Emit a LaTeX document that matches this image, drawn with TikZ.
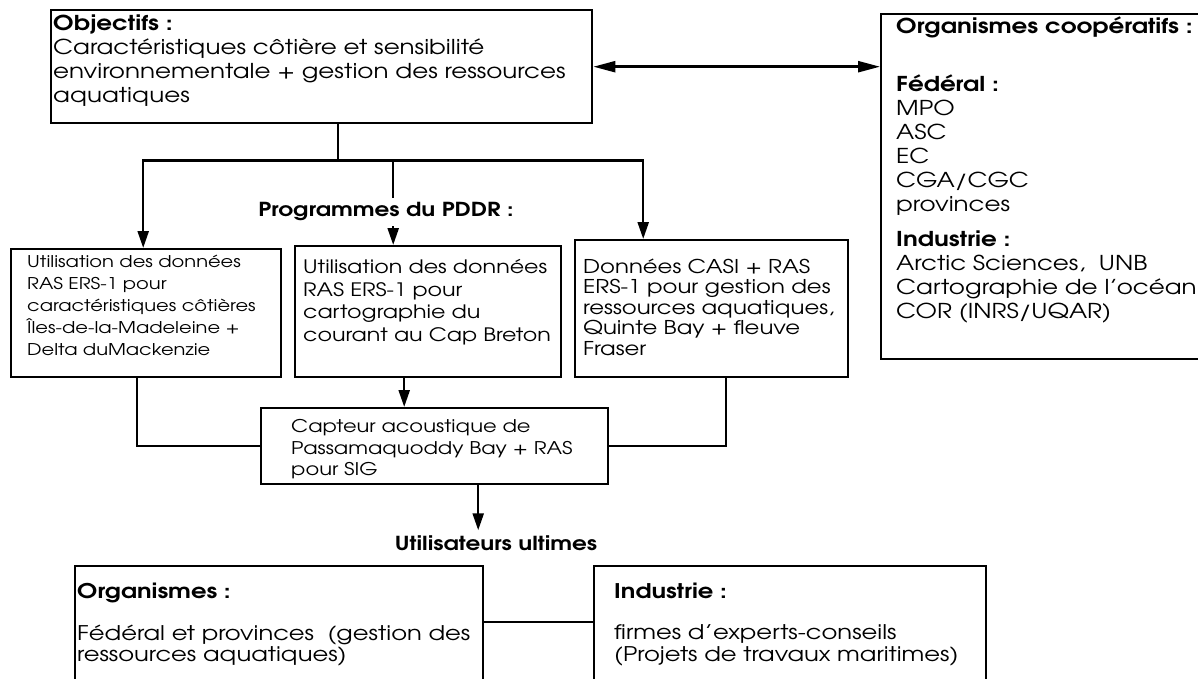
\documentclass[tikz,border=0pt]{standalone}
\usepackage{fontspec}
\setmainfont{TeX Gyre Adventor}[FakeStretch=1.2]
\usetikzlibrary{arrows.meta,positioning}

\tikzset{
  box/.style={draw, line width=2.4pt, anchor=north west, inner xsep=8pt, inner ysep=4pt},
  bigtxt/.style={font=\fontsize{20.5}{24}\selectfont},
  head/.style={font=\fontsize{19.3}{24}\selectfont\bfseries, inner sep=5pt},
  link/.style={line width=2.4pt},
  arr/.style={link, -{Triangle[length=17pt,width=11pt]}},
  botharr/.style={link, {Triangle[length=22pt,width=11pt]}-{Triangle[length=22pt,width=11pt]}},
}
% fixed size box, lines set from the top
\newcommand{\boxtext}[3]{\parbox[c][#2][t]{#1}{\begin{tabular}[t]{@{}l@{}}#3\end{tabular}}}

\begin{document}
\begin{tikzpicture}[x=1pt,y=-1pt]
  \useasboundingbox (0,0) rectangle (1198,679);

  % objectifs and partners
  \node[box, bigtxt, inner xsep=2pt, inner ysep=3.8pt] (obj) at (50,9) {\boxtext{537pt}{105.4pt}{%
    \textbf{Objectifs :}\\
    Caractéristiques côtière et sensibilité\\
    environnementale + gestion des ressources\\
    aquatiques}};
  \node[box, bigtxt, inner xsep=15pt, inner ysep=2.8pt] (coop) at (880,13) {\boxtext{300pt}{339.4pt}{%
    \textbf{Organismes coopératifs :}\\[34pt]
    \textbf{Fédéral :}\\
    MPO\\
    ASC\\
    EC\\
    CGA/CGC\\
    provinces\\[11pt]
    \textbf{Industrie :}\\
    Arctic Sciences,\ \ UNB\\
    Cartographie de l'océan\\
    COR (INRS/UQAR)}};

  % programmes
  \node[box, inner xsep=16pt, inner ysep=2.6pt, font=\fontsize{16.2}{22}\selectfont] (b1) at (10,248) {\boxtext{238pt}{122.8pt}{%
    Utilisation des données\\
    RAS ERS-1 pour\\
    caractéristiques côtières\\
    Îles-de-la-Madeleine +\\
    Delta duMackenzie}};
  \node[box, inner ysep=11.6pt, font=\fontsize{18.5}{22.5}\selectfont] (b2) at (294,245) {\boxtext{250pt}{107.8pt}{%
    Utilisation des données\\
    RAS ERS-1 pour\\
    cartographie du\\
    courant au Cap Breton}};
  \node[box, inner ysep=18.6pt, font=\fontsize{19}{20.5}\selectfont] (b3) at (574,239) {\boxtext{257pt}{99.8pt}{%
    Données CASI + RAS\\
    ERS-1 pour gestion des\\
    ressources aquatiques,\\
    Quinte Bay + fleuve\\
    Fraser}};
  \node[box, inner xsep=30pt, inner ysep=9.5pt, font=\fontsize{17.5}{21.5}\selectfont] (cap) at (260,407) {\boxtext{287pt}{57pt}{%
    Capteur acoustique de\\
    Passamaquoddy Bay + RAS\\
    pour SIG}};

  % end users
  \node[head] (users) at (496,543) {Utilisateurs ultimes};
  \node[box, inner xsep=2pt, inner ysep=16.9pt, font=\fontsize{20.2}{21}\selectfont] (org) at (74,565) {\boxtext{404pt}{101.2pt}{%
    \textbf{Organismes :}\\[20pt]
    Fédéral et provinces\ \ (gestion des\\
    ressources aquatiques)}};
  \node[box, inner xsep=20pt, inner ysep=16.9pt, font=\fontsize{20.2}{21}\selectfont] (ind) at (593,565) {\boxtext{352pt}{101.2pt}{%
    \textbf{Industrie :}\\[20pt]
    firmes d'experts-conseils\\
    (Projets de travaux maritimes)}};

  % connectors
  \draw[botharr] (obj.east) -- (obj.east -| coop.west);
  \draw[link] ([xshift=16.5pt]obj.south) -- ++(0,36) coordinate (split);
  \draw[arr] (split) -| ([xshift=-3pt]b1.north);
  \draw[arr] (split) -| ([xshift=-35pt]b2.north);
  \draw[arr] (split) -| ([xshift=-68.5pt]b3.north);
  \draw[link] ([xshift=-9pt]b1.south) |- (cap.west);
  \draw[link] ([xshift=14.5pt]b3.south) |- (cap.east);
  \draw[arr] ([xshift=-24pt]b2.south) -- ([xshift=-24pt]b2.south |- cap.north);
  \draw[arr] ([xshift=43.5pt]cap.south) -- ([xshift=43.5pt]cap.south |- users.north);
  \draw[link] (org.north east) ++(0,57) coordinate (mid) -- (mid -| ind.west);

  \node[head, fill=white] (prog) at (386,212) {Programmes du PDDR :};
\end{tikzpicture}
\end{document}
